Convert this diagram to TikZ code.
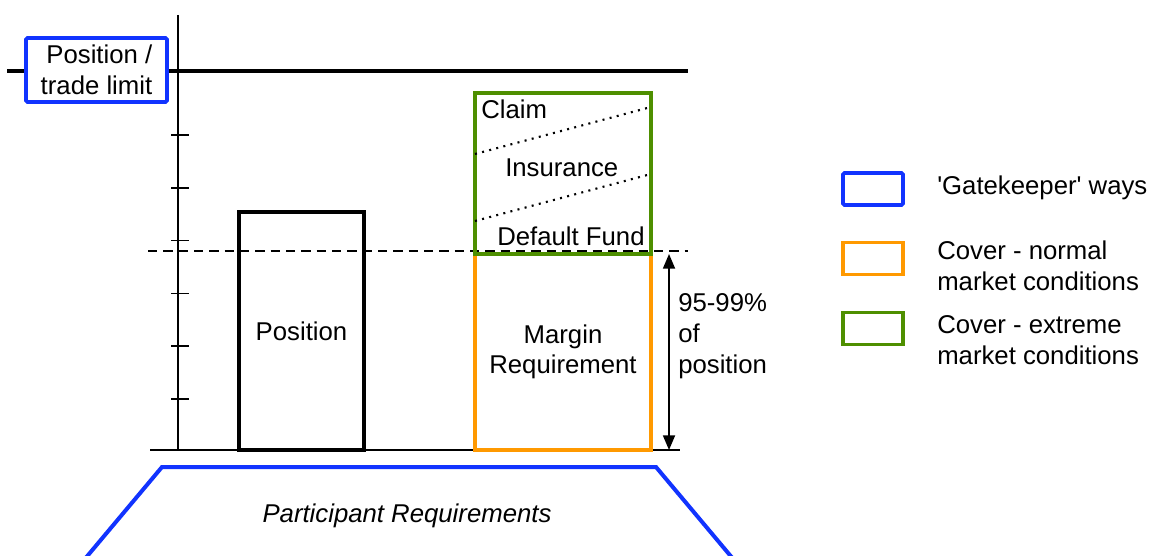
\documentclass[tikz,border=0pt]{standalone}
\usepackage{fontspec}
\setmainfont{Liberation Sans}[Ligatures=TeXOff]
\usetikzlibrary{arrows.meta}
\definecolor{gkblue}{RGB}{17,51,255}
\definecolor{covorange}{RGB}{255,153,0}
\definecolor{covgreen}{RGB}{78,143,0}
\newlength\pxu
\setlength\pxu{0.75pt}

\begin{document}
\begin{tikzpicture}[x=0.75pt,y=-0.75pt,
  font=\fontsize{19.3}{23}\selectfont,
  lbl/.style={inner sep=0pt, anchor=base west},
  bar/.style={draw, line width=2.6pt, inner sep=0pt},
  gate/.style={bar, draw=gkblue, line width=2.8pt, rounded corners=1.2pt},
  normal/.style={bar, draw=covorange},
  extreme/.style={bar, draw=covgreen},
  keybox/.style={minimum width=60\pxu, minimum height=32\pxu},
  tick/.style={line width=1.1pt},
  level/.style={line width=1.1pt, dash pattern=on 7pt off 4.5pt},
  layer/.style={line width=1.6pt, dash pattern=on 1.5pt off 4pt}]
\useasboundingbox (0,0) rectangle (1153,556);

% axes and limit line
\coordinate (axT) at (178,15);
\coordinate (axB) at (178,450);
\coordinate (limL) at (7,71);
\coordinate (limR) at (688,71);
\coordinate (baseL) at (150,450);
\coordinate (baseR) at (680,450);
\coordinate (lvlL) at (148,251);
\coordinate (lvlR) at (688,251);
\draw[line width=1.3pt] (axT) -- (axB);
\draw[line width=2.3pt] (limL) -- (limR);
\draw[line width=1.5pt] (baseL) -- (baseR);
\foreach \k in {0,...,5}
  \draw[tick] (171,{135+52.8*\k}) -- (189,{135+52.8*\k});
\draw[level] (lvlL) -- (lvlR);

% position limit
\node[gate, fill=white, minimum width=141\pxu, minimum height=64\pxu, align=right]
  (limit) at (96.5,70) {Position /\\trade limit};

% position bar
\node[bar, minimum width=125\pxu, minimum height=238\pxu] (pos) at (301.5,331) {Position};

% margin and default fund
\node[normal, minimum width=176\pxu, minimum height=196\pxu, align=center]
  (margin) at (563,352) {Margin\\Requirement};
\node[extreme, minimum width=176\pxu, minimum height=161\pxu] (fund) at (563,173.5) {};
\coordinate (d1L) at (475,154);
\coordinate (d1R) at (651,107);
\coordinate (d2L) at (475,221);
\coordinate (d2R) at (651,174);
\draw[layer] (d1L) -- (d1R);
\draw[layer] (d2L) -- (d2R);
\node[lbl] (claim) at (481,119) {Claim};
\node[lbl] (ins) at (505,176) {Insurance};
\node[lbl] (df) at (497,245) {Default Fund};

% coverage arrow
\coordinate (arT) at (669,254);
\coordinate (arB) at (669,450);
\draw[line width=1.3pt, {Triangle[width=9pt,length=11pt]}-{Triangle[width=9pt,length=11pt]}] (arT) -- (arB);
% multi-line labels are placed by the baseline of their last line
\node[lbl, align=left] (pct) at (678,373) {95-99\%\\of\\position};

% participant requirements
\coordinate (trBL) at (84,560);
\coordinate (trTL) at (162,467);
\coordinate (trTR) at (656,467);
\coordinate (trBR) at (734,560);
\draw[gkblue, line width=3pt] (trBL) -- (trTL) -- (trTR) -- (trBR);
\node[inner sep=0pt, anchor=base] (part) at (407,522) {\itshape Participant Requirements};

% key
\node[gate, keybox] (kBlue) at (873,189) {};
\node[normal, keybox] (kOrange) at (873,258.5) {};
\node[extreme, keybox] (kGreen) at (873,328.5) {};
\node[lbl] (tBlue) at (937,195) {'Gatekeeper' ways};
\node[lbl, align=left] (tOrange) at (937,290) {Cover - normal\\market conditions};
\node[lbl, align=left] (tGreen) at (937,364) {Cover - extreme\\market conditions};
\end{tikzpicture}
\end{document}
